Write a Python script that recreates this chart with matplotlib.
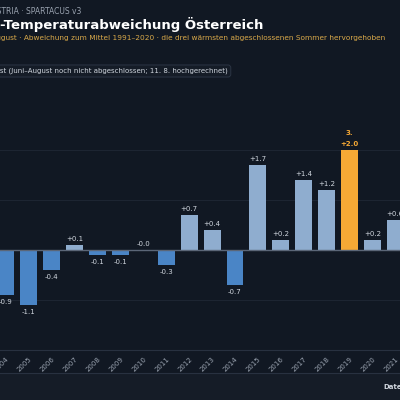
import matplotlib
matplotlib.use("Agg")
import matplotlib.pyplot as plt
from matplotlib.patches import Rectangle

years = [2004, 2005, 2006, 2007, 2008, 2009, 2010, 2011, 2012, 2013, 2014,
         2015, 2016, 2017, 2018, 2019, 2020, 2021]
values = [-0.9, -1.1, -0.4, 0.1, -0.1, -0.1, -0.0, -0.3, 0.7, 0.4, -0.7,
          1.7, 0.2, 1.4, 1.2, 2.0, 0.2, 0.6]
highlight = {2019: "3."}

BG = "#111823"
POS = "#8fadcf"
NEG = "#4a85c6"
HI = "#f6a935"
TXT = "#d0d6de"

fig = plt.figure(figsize=(4, 4), dpi=100, facecolor=BG)
W, H = 400, 400
fig.patches.append(Rectangle((0, 0), 1, (H - 373) / H, transform=fig.transFigure,
                             color="#151c27", zorder=0))
fig.add_artist(plt.Line2D([0, 1], [(H - 373) / H] * 2, color="#283140", lw=0.8))

ppy = 22.9
x0 = 2004 - 6 / ppy
ax = fig.add_axes([0, (H - 350) / H, 1, 250 / H])
ax.set_facecolor(BG)
ax.set_xlim(x0, x0 + W / ppy)
ax.set_ylim(-2, 3)
for s in ax.spines.values():
    s.set_visible(False)
ax.spines["bottom"].set_visible(True)
ax.spines["bottom"].set_color("#283140")
for g in [-1, 1, 2]:
    ax.axhline(g, color="#1e2633", lw=0.7, zorder=0)
ax.axhline(0, color="#5b6677", lw=1.0, zorder=3)

cols = []
for y, v in zip(years, values):
    if y in highlight:
        cols.append(HI)
    elif v >= 0:
        cols.append(POS)
    else:
        cols.append(NEG)
ax.bar(years, values, width=0.74, color=cols, zorder=2)
for y, v in zip(years, values):
    s = f"{v:+.1f}" if v != 0 else "-0.0"
    if y in highlight:
        ax.text(y, v + 0.06, s, ha="center", va="bottom", fontsize=5,
                color=HI, fontweight="bold")
        ax.text(y, v + 0.28, highlight[y], ha="center", va="bottom",
                fontsize=5, color=HI, fontweight="bold")
    elif v >= 0:
        ax.text(y, v + 0.06, s, ha="center", va="bottom", fontsize=5, color=TXT)
    else:
        ax.text(y, v - 0.08, s, ha="center", va="top", fontsize=5, color=TXT)

ax.set_yticks([])
ax.set_xticks(years)
ax.set_xticklabels([str(y) for y in years], rotation=45, ha="right",
                   rotation_mode="anchor", fontsize=5, color="#9aa3b0")
ax.tick_params(axis="x", length=0, pad=4)

fig.text(81 / W, 1 - 12 / H, "GEOSPHERE AUSTRIA · SPARTACUS v3", ha="right",
         va="center", fontsize=5.5, color="#9aa3b0")
fig.text(263 / W, 1 - 24 / H, "Sommer-Temperaturabweichung Österreich",
         ha="right", va="center", fontsize=9.5, color="white", fontweight="bold")
fig.text(386 / W, 1 - 38 / H,
         "Juni–August · Abweichung zum Mittel 1991–2020 · die drei wärmsten abgeschlossenen Sommer hervorgehoben",
         ha="right", va="center", fontsize=5.3, color="#d9a94a")
fig.text(228 / W, 1 - 71 / H,
         "2025: Juni–August (Juni–August noch nicht abgeschlossen; 11. 8. hochgerechnet)",
         ha="right", va="center", fontsize=5, color=TXT,
         bbox=dict(boxstyle="round,pad=0.4", fc="#151c27", ec="#2c3544", lw=0.7))
fig.text(383 / W, 1 - 387 / H, "Datenquelle", ha="left", va="center", fontsize=5,
         color=TXT, fontweight="bold")

fig.savefig("out.png", dpi=100, facecolor=BG)
